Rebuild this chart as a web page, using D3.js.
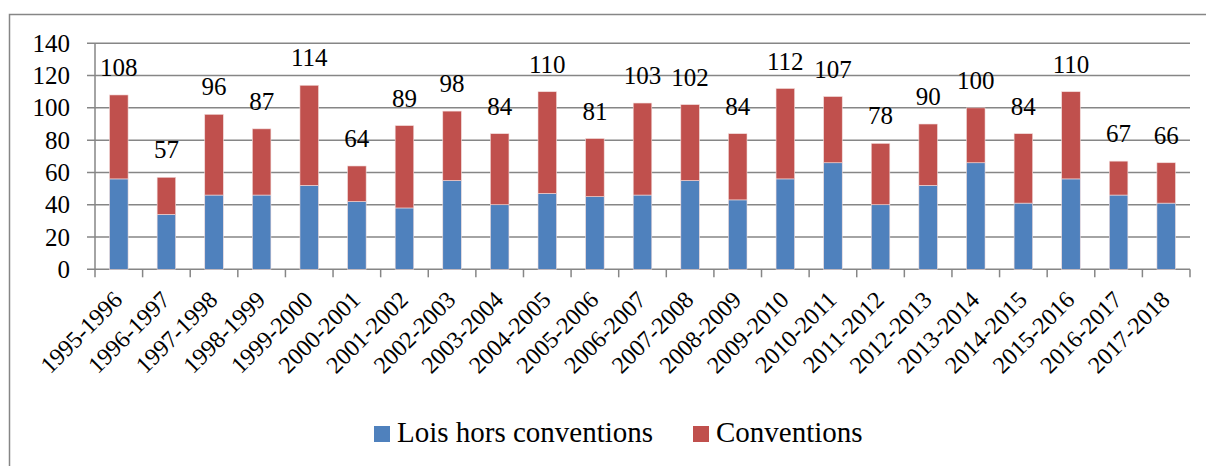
<!DOCTYPE html>
<html>
<head>
<meta charset="utf-8">
<script src="https://d3js.org/d3.v7.min.js"></script>
<style>
  body { margin: 0; background: #fff; }
  svg text { font-family: "Liberation Serif", "DejaVu Serif", serif; fill: #000; }
</style>
</head>
<body>
<svg id="chart" width="1206" height="466"></svg>
<script>
// data
var years = ["1995-1996", "1996-1997", "1997-1998", "1998-1999", "1999-2000", "2000-2001",
  "2001-2002", "2002-2003", "2003-2004", "2004-2005", "2005-2006", "2006-2007", "2007-2008",
  "2008-2009", "2009-2010", "2010-2011", "2011-2012", "2012-2013", "2013-2014", "2014-2015",
  "2015-2016", "2016-2017", "2017-2018"];
var totals = [108, 57, 96, 87, 114, 64, 89, 98, 84, 110, 81, 103, 102, 84, 112, 107, 78, 90, 100, 84, 110, 67, 66];
var loisHors = [56, 34, 46, 46, 52, 42, 38, 55, 40, 47, 45, 46, 55, 43, 56, 66, 40, 52, 66, 41, 56, 46, 41];
var conventions = totals.map((t, i) => t - loisHors[i]);
var yTicks = [0, 20, 40, 60, 80, 100, 120, 140];
var seriesNames = ["Lois hors conventions", "Conventions"];
var colors = ["#4F81BD", "#C0504D"];

var svg = d3.select("#chart");
var grey = "#868686";

// outer frame
svg.append("rect").attr("x", 9.5).attr("y", 14.5).attr("width", 1220).attr("height", 480)
  .attr("fill", "none").attr("stroke", grey).attr("stroke-width", 1.5);

var plotL = 95, plotR = 1190, plotT = 43.3, plotB = 269.3;

var x = d3.scaleBand().domain(years).range([plotL, plotR]).paddingInner(0.61).paddingOuter(0.305);
var xEdge = d3.scaleBand().domain(years).range([plotL, plotR]);
var y = d3.scaleLinear().domain([0, 140]).range([plotB, plotT]);

// gridlines
svg.append("g").selectAll("line").data(yTicks).enter().append("line")
  .attr("x1", plotL - 8).attr("x2", plotR)
  .attr("y1", d => y(d)).attr("y2", d => y(d))
  .attr("stroke", grey).attr("stroke-width", 1.5);

// y axis line
svg.append("line").attr("x1", plotL).attr("x2", plotL).attr("y1", plotT).attr("y2", plotB)
  .attr("stroke", grey).attr("stroke-width", 1.5);

// y labels
svg.append("g").selectAll("text").data(yTicks).enter().append("text")
  .attr("x", 70).attr("y", d => y(d) + 8.5)
  .attr("text-anchor", "end").style("font-size", "25px")
  .text(d => d);

// x ticks
var tickPos = years.map(d => xEdge(d)).concat([plotR]);
svg.append("g").selectAll("line").data(tickPos).enter().append("line")
  .attr("x1", d => d).attr("x2", d => d).attr("y1", plotB).attr("y2", plotB + 8)
  .attr("stroke", grey).attr("stroke-width", 1.5);

// stacked bars
var stackData = years.map((yr, i) => ({ year: yr, lois: loisHors[i], conv: conventions[i] }));
var stack = d3.stack().keys(["lois", "conv"])(stackData);
svg.append("g").selectAll("g").data(stack).enter().append("g")
  .attr("fill", (d, i) => colors[i])
  .selectAll("rect").data(d => d).enter().append("rect")
  .attr("x", d => x(d.data.year))
  .attr("width", x.bandwidth())
  .attr("y", d => y(d[1]))
  .attr("height", d => y(d[0]) - y(d[1]))
  .attr("stroke", "#f2dcdb").attr("stroke-width", 0.6);

// total labels
svg.append("g").selectAll("text").data(years).enter().append("text")
  .attr("x", d => x(d) + x.bandwidth() / 2)
  .attr("y", (d, i) => y(totals[i]) - 19)
  .attr("text-anchor", "middle").style("font-size", "25px")
  .text((d, i) => totals[i]);

// x labels rotated
svg.append("g").selectAll("text").data(years).enter().append("text")
  .attr("transform", d => "translate(" + (x(d) + x.bandwidth() / 2 + 5) + "," + (plotB + 32) + ") rotate(-45)")
  .attr("text-anchor", "end").style("font-size", "24px")
  .text(d => d);

// legend
var legX = [374, 693];
var leg = svg.append("g").selectAll("g").data(seriesNames).enter().append("g")
  .attr("transform", (d, i) => "translate(" + legX[i] + ",426)");
leg.append("rect").attr("width", 16).attr("height", 16).attr("fill", (d, i) => colors[i]);
leg.append("text").attr("x", 23).attr("y", 16).style("font-size", "29px").text(d => d);
</script>
</body>
</html>
